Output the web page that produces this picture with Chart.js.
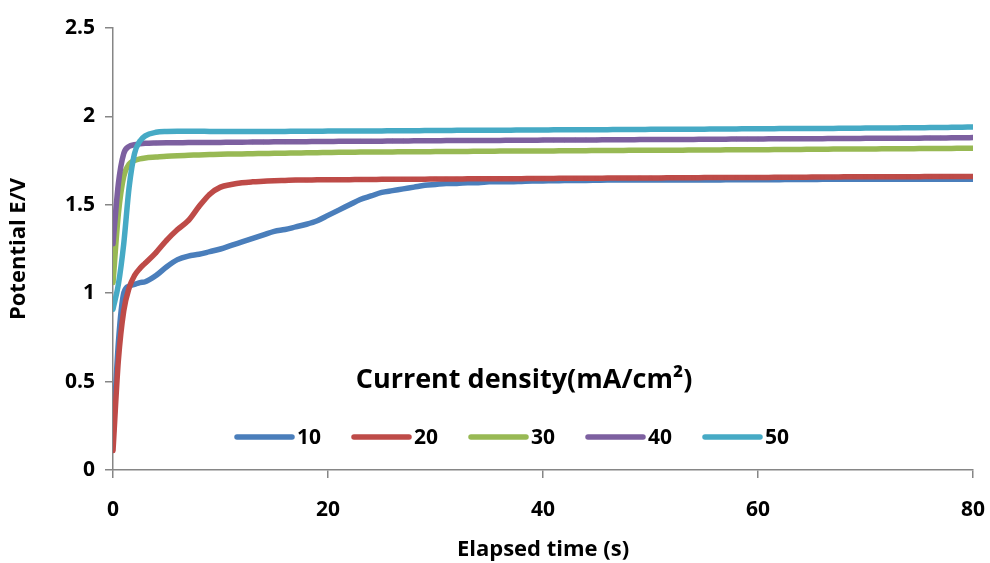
<!DOCTYPE html>
<html>
<head>
<meta charset="utf-8">
<script src="https://cdn.jsdelivr.net/npm/chart.js@4/dist/chart.umd.min.js"></script>
<style>
  html, body { margin: 0; padding: 0; background: #fff; }
  #wrap { width: 990px; height: 563px; }
</style>
</head>
<body>
<div id="wrap"><canvas id="myChart" width="990" height="563"></canvas></div>
<script>
// elapsed time (s)
const time = [0, 0.5, 1, 1.5, 2, 2.5, 3,
  4, 5, 6, 7, 8, 9, 10,
  11, 12, 13, 14, 15, 16, 17, 18, 19, 20,
  21, 22, 23, 24, 25, 26, 27, 28, 29, 30,
  31, 32, 33, 34, 35, 36, 37, 38, 39, 40,
  41, 42, 43, 44, 45, 46, 47, 48, 49, 50,
  51, 52, 53, 54, 55, 56, 57, 58, 59, 60,
  61, 62, 63, 64, 65, 66, 67, 68, 69, 70,
  71, 72, 73, 74, 75, 76, 77, 78, 79, 80]

// potential (V) for each current density
const e10 = [0.18, 0.72, 1.00, 1.04, 1.05, 1.06, 1.065,
  1.10, 1.15, 1.19, 1.21, 1.22, 1.235, 1.25,
  1.27, 1.29, 1.31, 1.33, 1.35, 1.36, 1.375, 1.39, 1.41, 1.44,
  1.47, 1.50, 1.53, 1.55, 1.57, 1.58, 1.59, 1.60, 1.61, 1.615,
  1.62, 1.62, 1.625, 1.625, 1.63, 1.63, 1.63, 1.632, 1.634, 1.635,
  1.636, 1.637, 1.638, 1.638, 1.639, 1.64, 1.64, 1.64, 1.64, 1.64,
  1.64, 1.64, 1.64, 1.64, 1.64, 1.64, 1.641, 1.641, 1.641, 1.642,
  1.642, 1.642, 1.643, 1.643, 1.643, 1.644, 1.644, 1.644, 1.644, 1.645,
  1.645, 1.645, 1.645, 1.645, 1.645, 1.645, 1.645, 1.645, 1.645, 1.645]
const e20 = [0.11, 0.62, 0.90, 1.03, 1.10, 1.14, 1.17,
  1.23, 1.30, 1.36, 1.41, 1.49, 1.56, 1.60,
  1.615, 1.625, 1.63, 1.633, 1.636, 1.638, 1.64, 1.64, 1.641, 1.641,
  1.642, 1.642, 1.643, 1.643, 1.644, 1.644, 1.645, 1.645, 1.645, 1.646,
  1.646, 1.646, 1.647, 1.647, 1.647, 1.648, 1.648, 1.648, 1.649, 1.649,
  1.649, 1.65, 1.65, 1.65, 1.65, 1.651, 1.651, 1.651, 1.652, 1.652,
  1.652, 1.653, 1.653, 1.653, 1.654, 1.654, 1.654, 1.655, 1.655, 1.655,
  1.655, 1.656, 1.656, 1.656, 1.657, 1.657, 1.657, 1.658, 1.658, 1.658,
  1.658, 1.659, 1.659, 1.659, 1.659, 1.66, 1.66, 1.66, 1.66, 1.66]
const e30 = [1.06, 1.45, 1.66, 1.73, 1.75, 1.76, 1.765,
  1.77, 1.775, 1.778, 1.78, 1.782, 1.784, 1.786,
  1.787, 1.788, 1.789, 1.79, 1.791, 1.792, 1.793, 1.794, 1.795, 1.796,
  1.797, 1.797, 1.798, 1.798, 1.799, 1.799, 1.80, 1.80, 1.80, 1.801,
  1.801, 1.802, 1.802, 1.803, 1.803, 1.804, 1.804, 1.804, 1.805, 1.805,
  1.805, 1.806, 1.806, 1.806, 1.807, 1.807, 1.807, 1.808, 1.808, 1.808,
  1.809, 1.809, 1.809, 1.81, 1.81, 1.81, 1.811, 1.811, 1.811, 1.812,
  1.812, 1.813, 1.813, 1.813, 1.814, 1.814, 1.815, 1.815, 1.815, 1.816,
  1.816, 1.817, 1.817, 1.817, 1.818, 1.818, 1.819, 1.819, 1.82, 1.82]
const e40 = [1.28, 1.62, 1.79, 1.83, 1.84, 1.845, 1.848,
  1.85, 1.851, 1.851, 1.852, 1.852, 1.853, 1.853,
  1.854, 1.854, 1.855, 1.855, 1.856, 1.856, 1.857, 1.857, 1.858, 1.858,
  1.859, 1.859, 1.86, 1.86, 1.86, 1.861, 1.861, 1.862, 1.862, 1.862,
  1.863, 1.863, 1.863, 1.864, 1.864, 1.864, 1.865, 1.865, 1.865, 1.866,
  1.866, 1.866, 1.867, 1.867, 1.867, 1.868, 1.868, 1.868, 1.869, 1.869,
  1.869, 1.87, 1.87, 1.87, 1.871, 1.871, 1.871, 1.872, 1.872, 1.872,
  1.873, 1.873, 1.873, 1.874, 1.874, 1.874, 1.875, 1.875, 1.875, 1.876,
  1.876, 1.876, 1.877, 1.877, 1.877, 1.878, 1.878, 1.879, 1.879, 1.88]
const e50 = [0.91, 1.05, 1.28, 1.60, 1.79, 1.86, 1.89,
  1.91, 1.915, 1.916, 1.916, 1.916, 1.915, 1.915,
  1.915, 1.915, 1.915, 1.915, 1.915, 1.915, 1.916, 1.916, 1.916, 1.917,
  1.917, 1.917, 1.918, 1.918, 1.918, 1.919, 1.919, 1.919, 1.92, 1.92,
  1.92, 1.921, 1.921, 1.921, 1.922, 1.922, 1.922, 1.923, 1.923, 1.923,
  1.924, 1.924, 1.924, 1.925, 1.925, 1.925, 1.926, 1.926, 1.926, 1.927,
  1.927, 1.927, 1.928, 1.928, 1.928, 1.929, 1.929, 1.929, 1.93, 1.93,
  1.93, 1.931, 1.931, 1.931, 1.932, 1.932, 1.932, 1.933, 1.933, 1.934,
  1.934, 1.935, 1.935, 1.936, 1.936, 1.937, 1.937, 1.938, 1.939, 1.94]

const seriesLabels = ['10', '20', '30', '40', '50']
const seriesValues = [e10, e20, e30, e40, e50]
const colores = ['#4A7EBB', '#BE4B48', '#98B954', '#7D60A0', '#46AAC5']
const marcadores = ['crossRot', 'rect', 'line', 'star', 'crossRot']
const legendTitle = 'Current density(mA/cm\u00B2)'

const FONT = '"Open Sans", "Liberation Sans", sans-serif'
const AXIS = '#868686'

//DATASETS
const datasets = seriesValues.map((vals, i) => {
  return {
    label: seriesLabels[i],
    data: vals.map((v, k) => ({ x: time[k], y: v })),
    borderColor: colores[i],
    backgroundColor: colores[i],
    borderWidth: 5.5,
    borderCapStyle: 'round',
    borderJoinStyle: 'round',
    pointStyle: marcadores[i],
    pointRadius: 2.2,
    pointBorderWidth: 1,
    pointBorderColor: colores[i],
    cubicInterpolationMode: 'monotone',
    order: 4 - i,
  }
})

//LEYENDA DENTRO DEL AREA
const leyenda = {
  id: 'leyenda',
  afterDraw(chart) {
    const ctx = chart.ctx
    ctx.save()
    ctx.fillStyle = '#000'
    ctx.font = '700 27px ' + FONT
    ctx.textAlign = 'center'
    ctx.textBaseline = 'middle'
    ctx.fillText(legendTitle, 524, 380)

    let x = 237
    const y = 437
    ctx.font = '700 21px ' + FONT
    ctx.textAlign = 'left'
    chart.data.datasets.forEach(ds => {
      ctx.strokeStyle = ds.borderColor
      ctx.lineWidth = 5.5
      ctx.lineCap = 'round'
      ctx.beginPath()
      ctx.moveTo(x, y)
      ctx.lineTo(x + 55, y)
      ctx.stroke()
      ctx.fillStyle = '#000'
      ctx.fillText(ds.label, x + 60, y + 1)
      x += 117
    })
    ctx.restore()
  }
}

const chart = new Chart('myChart', {
  type: 'line',
  data: { datasets: datasets },
  plugins: [leyenda],
  options: {
    responsive: false,
    animation: false,
    layout: { padding: { top: 28, right: 17, left: 0, bottom: 0 } },
    plugins: {
      legend: { display: false },
      tooltip: { enabled: false },
    },
    scales: {
      x: {
        type: 'linear',
        min: 0,
        max: 80,
        afterFit: s => { s.height = 93; s.paddingLeft = 0; s.paddingRight = 0 },
        ticks: {
          stepSize: 20,
          color: '#000',
          padding: 19,
          font: { family: FONT, size: 21, weight: '700' },
        },
        grid: { drawOnChartArea: false, color: AXIS, tickLength: 8, lineWidth: 1.5 },
        border: { color: AXIS, width: 1.5 },
        title: {
          display: true,
          text: 'Elapsed time (s)',
          color: '#000',
          padding: { top: 0, bottom: 0 },
          font: { family: FONT, size: 22, weight: '700' },
        },
      },
      y: {
        min: 0,
        max: 2.5,
        afterFit: s => { s.width = 113 },
        ticks: {
          stepSize: 0.5,
          color: '#000',
          padding: 10,
          font: { family: FONT, size: 21, weight: '700' },
          callback: v => String(v),
        },
        grid: { drawOnChartArea: false, color: AXIS, tickLength: 8, lineWidth: 1.5 },
        border: { color: AXIS, width: 1.5 },
        title: {
          display: true,
          text: 'Potential E/V',
          color: '#000',
          padding: { top: 6, bottom: 0 },
          font: { family: FONT, size: 22, weight: '700' },
        },
      },
    },
  },
})
</script>
</body>
</html>
